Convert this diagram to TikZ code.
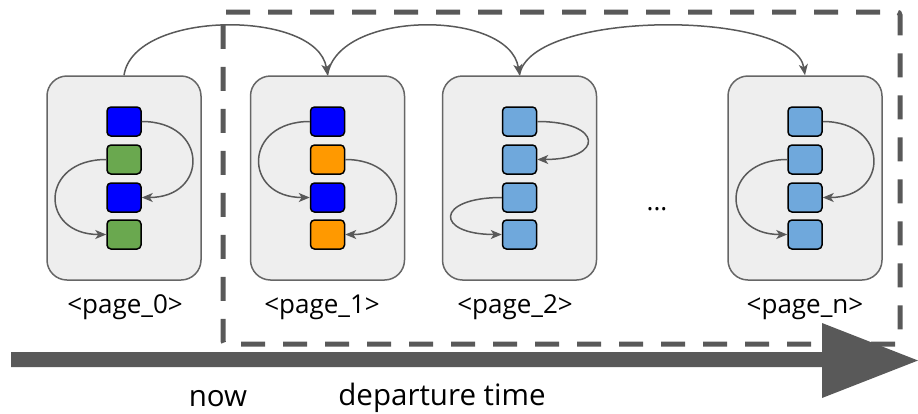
\documentclass[tikz,border=0pt]{standalone}
\usepackage{fontspec}
\setmainfont{Open Sans}
\usetikzlibrary{arrows.meta}
\definecolor{boxfill}{HTML}{EEEEEE}
\definecolor{boxline}{HTML}{666666}
\definecolor{darkg}{HTML}{595959}
\definecolor{cblue}{HTML}{0000FF}
\definecolor{cgreen}{HTML}{6AA84F}
\definecolor{corange}{HTML}{FF9900}
\definecolor{clight}{HTML}{6FA8DC}
\tikzset{
  pagebox/.style={draw=boxline, fill=boxfill, line width=1.5pt, rounded corners=20pt,
    minimum width=154pt, minimum height=204pt, inner sep=0pt},
  cell/.style={draw=black, line width=1.5pt, rounded corners=4pt,
    minimum width=34pt, minimum height=29pt, inner sep=0pt},
  link/.style={draw=darkg, line width=1.5pt, -{Stealth[length=11pt,width=9pt,inset=3pt]}},
  lbl/.style={font=\fontsize{26}{30}\selectfont, anchor=base, inner sep=0pt},
  axislbl/.style={font=\fontsize{29.5}{33}\selectfont, anchor=base, inner sep=0pt},
}
\begin{document}
\begin{tikzpicture}[x=1pt,y=-1pt]
\useasboundingbox (0,0) rectangle (918,413);
% dashed window
\draw[darkg, line width=5pt, dash pattern=on 24pt off 18pt, rounded corners=3pt]
  (223,12) -- (900,12) -- (900,344) -- (223,344) -- cycle;
% pages
\node[pagebox] (p0) at (124,178) {};
\node[pagebox] (p1) at (327.5,178) {};
\node[pagebox] (p2) at (519.5,178) {};
\node[pagebox] (pn) at (805,178) {};
% cells
\foreach \p/\x/\ca/\cb/\cc/\cd in {p0/124/cblue/cgreen/cblue/cgreen,
    p1/327.5/cblue/corange/cblue/corange,
    p2/519.5/clight/clight/clight/clight,
    pn/805/clight/clight/clight/clight}{
  \node[cell, fill=\ca] (\p a) at (\x,121.5) {};
  \node[cell, fill=\cb] (\p b) at (\x,159.5) {};
  \node[cell, fill=\cc] (\p c) at (\x,197.5) {};
  \node[cell, fill=\cd] (\p d) at (\x,234.5) {};
}
% inner links
\draw[link] (p0a.east) .. controls +(67,0) and +(67,0) .. (p0c.east);
\draw[link] (p0b.west) .. controls +(-67,0) and +(-67,0) .. (p0d.west);
\draw[link] (p1a.west) .. controls +(-67,0) and +(-67,0) .. (p1c.west);
\draw[link] (p1b.east) .. controls +(67,0) and +(67,0) .. (p1d.east);
\draw[link] (p2a.east) .. controls +(67,0) and +(67,0) .. (p2b.east);
\draw[link] (p2c.west) .. controls +(-67,0) and +(-67,0) .. (p2d.west);
\draw[link] (pna.east) .. controls +(67,0) and +(67,0) .. (pnc.east);
\draw[link] (pnb.west) .. controls +(-67,0) and +(-67,0) .. (pnd.west);
% top links
\draw[link] (p0.north) .. controls +(10,-66) and +(-10,-66) .. (p1.north);
\draw[link] (p1.north) .. controls +(10,-66) and +(-10,-66) .. (p2.north);
\draw[link] (p2.north) .. controls +(10,-66) and +(-10,-66) .. (pn.north);
% labels
\node[lbl] (l0) at (125,313) {<page\_0>};
\node[lbl] (l1) at (322,313) {<page\_1>};
\node[lbl] (l2) at (515,313) {<page\_2>};
\node[lbl] (ln) at (805,313) {<page\_n>};
\node[lbl] (dots) at (657,210) {...};
% time arrow
\fill[darkg] (11,352) -- (822,352) -- (822,323) -- (918,360.5) -- (822,398) -- (822,367) -- (11,367) -- cycle;
\node[axislbl] (now) at (218,406) {now};
\node[axislbl] (dep) at (442,405) {departure time};
\end{tikzpicture}
\end{document}
